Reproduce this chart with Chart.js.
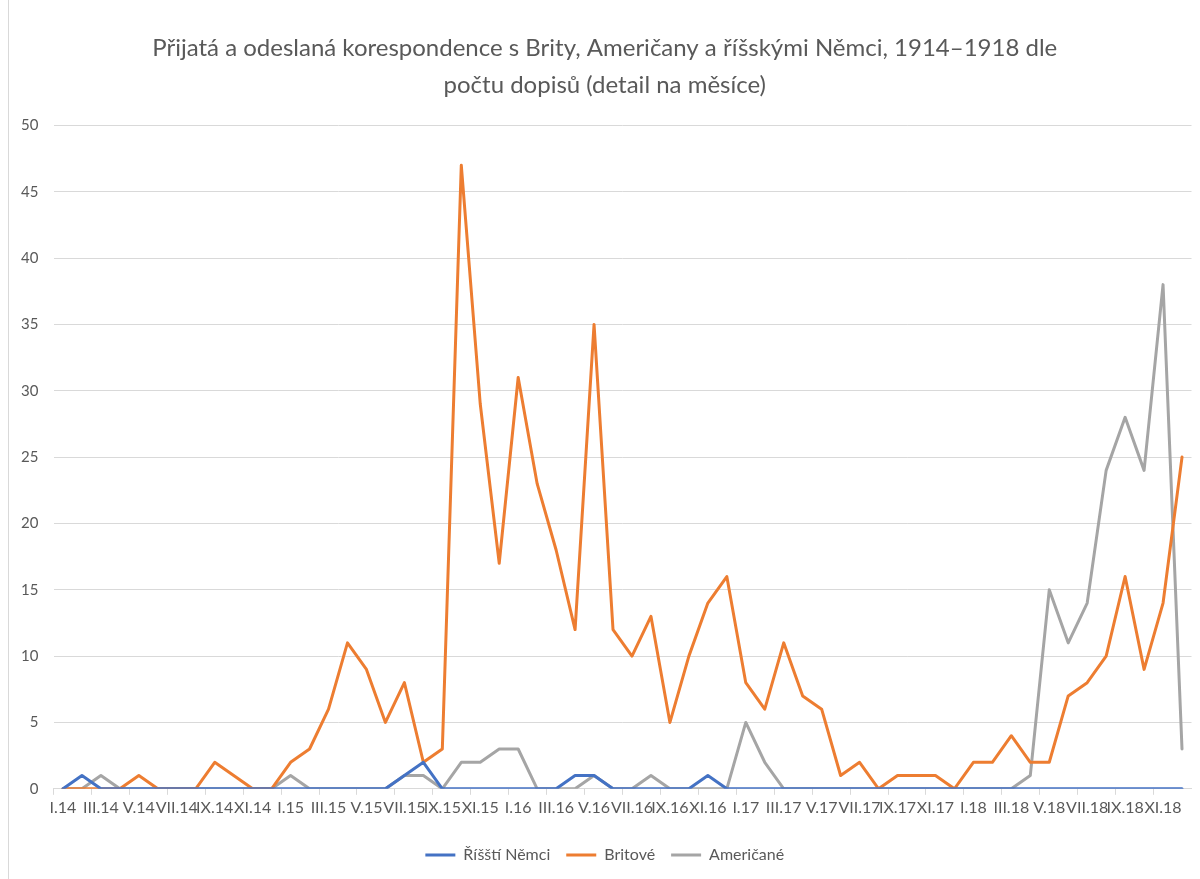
<!DOCTYPE html>
<html>
<head>
<meta charset="utf-8">
<script src="https://cdn.jsdelivr.net/npm/chart.js@4/dist/chart.umd.min.js"></script>
<style>
  html, body { margin: 0; padding: 0; background: #ffffff; }
  #wrap { position: relative; width: 1200px; height: 879px; }
  #frame { position: absolute; left: 8px; top: 0; width: 1px; height: 879px; background: #d9d9d9; }
  canvas { position: absolute; left: 0; top: 0; }
</style>
</head>
<body>
<div id="wrap">
  <div id="frame"></div>
  <canvas id="c" width="1200" height="879"></canvas>
</div>
<script>
// ---- data ----
const categories = [
  "I.14","II.14","III.14","IV.14","V.14","VI.14","VII.14","VIII.14","IX.14","X.14","XI.14","XII.14",
  "I.15","II.15","III.15","IV.15","V.15","VI.15","VII.15","VIII.15","IX.15","X.15","XI.15","XII.15",
  "I.16","II.16","III.16","IV.16","V.16","VI.16","VII.16","VIII.16","IX.16","X.16","XI.16","XII.16",
  "I.17","II.17","III.17","IV.17","V.17","VI.17","VII.17","VIII.17","IX.17","X.17","XI.17","XII.17",
  "I.18","II.18","III.18","IV.18","V.18","VI.18","VII.18","VIII.18","IX.18","X.18","XI.18","XII.18"
];
const seriesNames = ["Říšští Němci", "Britové", "Američané"];
const risstiNemci = [
  0,1,0,0,0,0,0,0,0,0,0,0,
  0,0,0,0,0,0,1,2,0,0,0,0,
  0,0,0,1,1,0,0,0,0,0,1,0,
  0,0,0,0,0,0,0,0,0,0,0,0,
  0,0,0,0,0,0,0,0,0,0,0,0
];
const britove = [
  0,0,0,0,1,0,0,0,2,1,0,0,
  2,3,6,11,9,5,8,2,3,47,29,17,
  31,23,18,12,35,12,10,13,5,10,14,16,
  8,6,11,7,6,1,2,0,1,1,1,0,
  2,2,4,2,2,7,8,10,16,9,14,25
];
const americane = [
  0,0,1,0,0,0,0,0,0,0,0,0,
  1,0,0,0,0,0,1,1,0,2,2,3,
  3,0,0,0,1,0,0,1,0,0,0,0,
  5,2,0,0,0,0,0,0,0,0,0,0,
  0,0,0,1,15,11,14,24,28,24,38,3
];
const yMin = 0, yMax = 50, yStep = 5;
const titleLines = [
  "Přijatá a odeslaná korespondence s Brity, Američany a říšskými Němci, 1914–1918 dle",
  "počtu dopisů (detail na měsíce)"
];

// ---- chart ----
const FONT = "Lato, 'Open Sans', 'Liberation Sans', sans-serif";
const TEXT = "#595959";
const GRID = "#d9d9d9";
const PAD_LEFT = 18;

new Chart(document.getElementById("c"), {
  type: "line",
  data: {
    labels: categories,
    datasets: [
      { label: seriesNames[0], data: risstiNemci, borderColor: "#4472C4", backgroundColor: "#4472C4", borderWidth: 3 },
      { label: seriesNames[1], data: britove, borderColor: "#ED7D31", backgroundColor: "#ED7D31", borderWidth: 3 },
      { label: seriesNames[2], data: americane, borderColor: "#A5A5A5", backgroundColor: "#A5A5A5", borderWidth: 3 }
    ]
  },
  options: {
    responsive: false,
    animation: false,
    devicePixelRatio: 1,
    elements: {
      line: { borderWidth: 3, tension: 0, borderJoinStyle: "round", borderCapStyle: "round" },
      point: { radius: 0, hoverRadius: 0 }
    },
    layout: { padding: { left: PAD_LEFT, right: 8.5, top: 0, bottom: 6 } },
    plugins: {
      title: {
        display: true,
        text: titleLines,
        color: TEXT,
        font: { family: FONT, size: 24, weight: "normal", lineHeight: 1.54 },
        padding: { top: 29.5, bottom: 22 }
      },
      legend: {
        position: "bottom",
        labels: {
          color: TEXT,
          font: { family: FONT, size: 16 },
          usePointStyle: true,
          pointStyle: "line",
          pointStyleWidth: 30,
          boxHeight: 10,
          padding: 16
        }
      },
      tooltip: { enabled: false }
    },
    scales: {
      x: {
        type: "category",
        offset: true,
        afterFit: (scale) => { scale.height += 11; },
        grid: {
          offset: true,
          drawOnChartArea: false,
          drawTicks: true,
          tickLength: 6,
          color: (ctx) => (ctx.index % 2 === 0 ? GRID : "rgba(0,0,0,0)")
        },
        border: { display: true, color: GRID, width: 1 },
        ticks: {
          autoSkip: false,
          maxRotation: 0,
          minRotation: 0,
          padding: 3,
          color: TEXT,
          font: { family: FONT, size: 16 },
          callback: function (value, index) { return index % 2 === 0 ? this.getLabelForValue(value) : ""; }
        }
      },
      y: {
        min: yMin,
        max: yMax,
        afterFit: (scale) => { scale.width = 53.5 - PAD_LEFT; },
        grid: { color: GRID, lineWidth: 1, drawTicks: false },
        border: { display: false },
        ticks: {
          stepSize: yStep,
          padding: 15,
          color: TEXT,
          font: { family: FONT, size: 15 }
        }
      }
    }
  }
});
</script>
</body>
</html>
